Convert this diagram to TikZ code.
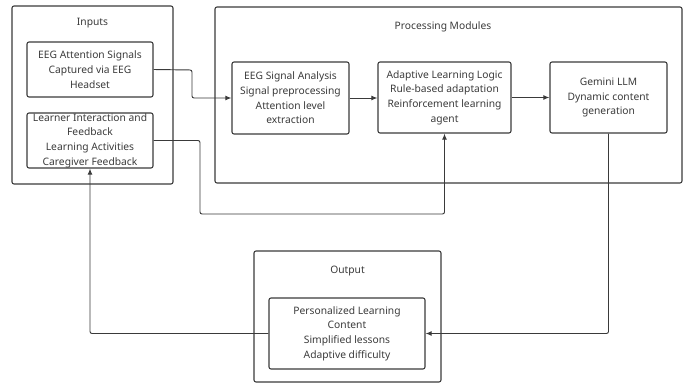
\documentclass[tikz,border=0pt]{standalone}
\usepackage{fontspec}
\setmainfont{Noto Sans}
\usetikzlibrary{arrows.meta}
\definecolor{ink}{HTML}{3A3A3A}
\tikzset{
  box/.style={draw=ink, line width=0.8pt, rounded corners=1.5pt, align=center,
              inner sep=0pt, font=\fontsize{7.7}{11}\selectfont, text=ink},
  title/.style={font=\fontsize{7.7}{10}\selectfont, text=ink},
  arr/.style={draw=ink, line width=0.7pt, rounded corners=1.5pt,
              -{Latex[length=4.5pt,width=3.6pt]}},
}
\begin{document}
\begin{tikzpicture}[x=0.75pt, y=-0.75pt]
\useasboundingbox (0,0) rectangle (686,385);

% group frames
\node[box, minimum width=120.75pt, minimum height=133.5pt] (inputs) at (92.5,95) {};
\node[title] (inputsT) at (92.5,23) {Inputs};
\node[box, minimum width=350.25pt, minimum height=132pt] (proc) at (448.5,95) {};
\node[title] (procT) at (443,27) {Processing Modules};
\node[box, minimum width=140.25pt, minimum height=98.25pt] (output) at (347.5,316.5) {};
\node[title] (outputT) at (347.5,271) {Output};

% input blocks
\node[box, minimum width=94.5pt, minimum height=41.25pt] (eeg) at (90,69.5)
  {EEG Attention Signals\\Captured via EEG\\Headset};
\node[box, minimum width=94.5pt, minimum height=41.25pt] (learn) at (90,140.5)
  {Learner Interaction and\\Feedback\\Learning Activities\\Caregiver Feedback};

% processing blocks
\node[box, minimum width=87.75pt, minimum height=54pt] (sig) at (290.5,98)
  {EEG Signal Analysis\\Signal preprocessing\\Attention level\\extraction};
\node[box, minimum width=99.75pt, minimum height=53.25pt] (adapt) at (444.5,97.5)
  {Adaptive Learning Logic\\Rule-based adaptation\\Reinforcement learning\\agent};
\node[box, minimum width=87.75pt, minimum height=53.25pt] (gem) at (608.5,97.5)
  {Gemini LLM\\Dynamic content\\generation};

% output block
\node[box, minimum width=117pt, minimum height=53.25pt] (pers) at (347,333.5)
  {Personalized Learning\\Content\\Simplified lessons\\Adaptive difficulty};

% routing points
\coordinate (bendA) at (192,70);
\coordinate (bendB) at (200,214);

% connectors
\draw[arr] (eeg.east) -- (bendA) |- (sig.west);
\draw[arr] (sig.east) -- (sig.east -| adapt.west);
\draw[arr] (adapt.east) -- (adapt.east -| gem.west);
\draw[arr] (learn.east) -| (bendB) -| (adapt.south);
\draw[arr] (gem.south) |- (pers.east);
\draw[arr] (pers.west) -| (learn.south);
\end{tikzpicture}
\end{document}
